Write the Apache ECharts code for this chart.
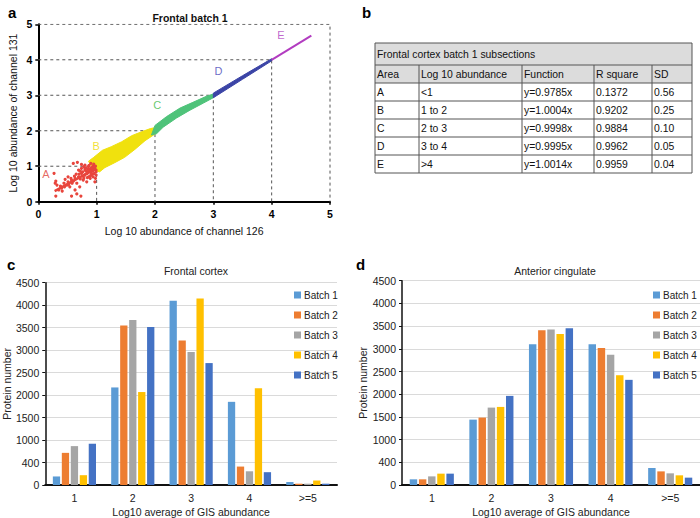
<!DOCTYPE html>
<html lang="en">
<head>
<meta charset="UTF-8">
<title>Frontal batch 1</title>
<script src="https://cdn.jsdelivr.net/npm/echarts@6/dist/echarts.min.js"></script>
<style>html,body{margin:0;padding:0;background:#fff}</style>
</head>
<body>
<div id="main" style="width:700px;height:518px"></div>
<script>
var font = 'Liberation Sans, Arial, sans-serif';

// ---- panel a: channel 131 vs channel 126 ----
var guideLevels = [1, 2, 3, 4, 5];
var redPoints = [
    [0.27, 0.80], [0.30, 0.58], [0.29, 0.52], [0.32, 0.47], [0.30, 0.16], [0.57, 0.16],
    [0.66, 0.22], [0.73, 0.16], [0.60, 1.08], [0.67, 1.11], [0.74, 1.05], [0.80, 1.03],
    [0.86, 0.99], [0.90, 1.08], [0.94, 1.01], [0.97, 0.94], [0.99, 0.89], [0.99, 0.84],
    [0.96, 0.80], [0.91, 0.75], [0.86, 0.70], [0.80, 0.75], [0.74, 0.80], [0.69, 0.70],
    [0.63, 0.66], [0.57, 0.61], [0.51, 0.56], [0.49, 0.47], [0.45, 0.42], [0.40, 0.38],
    [0.54, 0.42], [0.66, 0.52], [0.77, 0.61], [0.83, 0.56], [0.89, 0.66], [0.94, 0.70],
    [0.99, 0.75], [0.98, 0.66], [0.97, 0.56], [0.63, 0.33], [0.71, 0.42], [0.51, 0.70],
    [0.46, 0.63], [0.80, 0.89], [0.86, 0.84], [0.91, 0.89], [0.69, 0.89], [0.74, 0.94],
    [0.80, 0.94], [0.88, 0.92], [0.93, 0.86], [0.84, 0.80], [0.77, 0.72], [0.60, 0.58],
    [0.82, 0.86], [0.85, 0.91], [0.88, 0.87], [0.90, 0.82], [0.92, 0.95], [0.95, 0.90],
    [0.96, 0.97], [0.93, 0.78], [0.89, 0.73], [0.84, 0.68], [0.78, 0.66], [0.72, 0.64],
    [0.70, 0.78], [0.76, 0.84], [0.82, 0.95], [0.78, 0.99], [0.72, 0.86], [0.65, 0.78],
    [0.62, 0.72], [0.56, 0.66], [0.58, 0.52], [0.52, 0.48], [0.44, 0.52], [0.38, 0.44],
    [0.35, 0.33], [0.41, 0.30], [0.87, 1.02], [0.95, 1.06], [0.98, 1.00], [0.91, 0.96]
];
var fitA = [[0.28, 0.30], [0.98, 0.93]];
var fitE = [[4.00, 4.00], [4.68, 4.68]];
var bandB = [
    [0.86, 1.14], [0.95, 1.25], [1.10, 1.45], [1.25, 1.55], [1.43, 1.69], [1.60, 1.86],
    [1.77, 1.97], [1.92, 2.06], [2.01, 2.09], [2.02, 1.93], [1.83, 1.72], [1.66, 1.48],
    [1.48, 1.25], [1.31, 1.10], [1.14, 0.96], [1.05, 0.84], [0.95, 0.90]
];
var bandC = [
    [1.94, 1.88], [2.00, 2.15], [2.20, 2.40], [2.43, 2.64], [2.65, 2.80], [2.88, 2.97],
    [3.01, 3.04], [3.01, 2.94], [2.83, 2.78], [2.60, 2.58], [2.37, 2.36], [2.14, 2.10], [2.03, 1.92]
];
var bandD = [[3.00, 3.06], [3.50, 3.55], [4.00, 4.03], [4.00, 3.97], [3.50, 3.45], [3.00, 2.93]];
var areaLabels = [[0.13, 0.77, 'A'], [0.99, 1.58, 'B'], [2.04, 2.72, 'C'], [3.09, 3.68, 'D'], [4.16, 4.69, 'E']];

// ---- panel b: table ----
var tableTitle = 'Frontal cortex batch 1 subsections';
var tableHead = ['Area', 'Log 10 abundance', 'Function', 'R square', 'SD'];
var tableRows = [
    ['A', '<1', 'y=0.9785x', '0.1372', '0.56'],
    ['B', '1 to 2', 'y=1.0004x', '0.9202', '0.25'],
    ['C', '2 to 3', 'y=0.9998x', '0.9884', '0.10'],
    ['D', '3 to 4', 'y=0.9995x', '0.9962', '0.05'],
    ['E', '>4', 'y=1.0014x', '0.9959', '0.04']
];

// ---- panels c, d: protein number per abundance bin ----
var categories = ['1', '2', '3', '4', '>=5'];
var yTickLabels = ['0', '400', '1000', '1500', '2000', '2500', '3000', '3500', '4000', '4500'];
var batchNames = ['Batch 1', 'Batch 2', 'Batch 3', 'Batch 4', 'Batch 5'];
var frontalBatch1 = [190, 2170, 4100, 1850, 66];
var frontalBatch2 = [715, 3550, 3215, 410, 29];
var frontalBatch3 = [865, 3670, 2960, 305, 29];
var frontalBatch4 = [218, 2068, 4150, 2150, 100];
var frontalBatch5 = [918, 3515, 2712, 285, 29];
var anteriorBatch1 = [125, 1440, 3100, 3100, 375];
var anteriorBatch2 = [125, 1485, 3410, 3015, 300];
var anteriorBatch3 = [190, 1705, 3425, 2870, 257];
var anteriorBatch4 = [250, 1720, 3325, 2418, 213];
var anteriorBatch5 = [250, 1963, 3455, 2316, 162];

var batchColors = ['#5B9BD5', '#ED7D31', '#A5A5A5', '#FFC000', '#4472C4'];
var labelColors = ['#e0443a', '#eed800', '#3fba4a', '#4646b8', '#b040c0'];
var bands = [
    { pts: bandB, color: '#f0e10e' },
    { pts: bandC, color: '#4fc37a' },
    { pts: bandD, color: '#3b44a6' }
];

var myChart = echarts.init(document.getElementById('main'), null, { renderer: 'svg' });

// table drawn as graphic elements
var colX = [375, 419, 522, 594, 652, 692];
var rowY = [43, 65, 83, 101, 119, 137, 155, 173];
var tableGraphic = [];
tableGraphic.push({ type: 'rect', shape: { x: colX[0], y: rowY[0], width: colX[5] - colX[0], height: rowY[2] - rowY[0] }, style: { fill: '#dcdcdc' } });
for (var r = 0; r < rowY.length; r++) {
    tableGraphic.push({ type: 'line', shape: { x1: colX[0], y1: rowY[r], x2: colX[5], y2: rowY[r] }, style: { stroke: '#555', lineWidth: 1 } });
}
for (var c = 0; c < colX.length; c++) {
    var y1 = (c === 0 || c === colX.length - 1) ? rowY[0] : rowY[1];
    tableGraphic.push({ type: 'line', shape: { x1: colX[c], y1: y1, x2: colX[c], y2: rowY[7] }, style: { stroke: '#555', lineWidth: 1 } });
}
function cellText(txt, c, r) {
    return {
        type: 'text', x: colX[c] + 2, y: (rowY[r] + rowY[r + 1]) / 2,
        style: { text: txt, fill: '#111', font: '10.4px ' + font, textVerticalAlign: 'middle' }
    };
}
tableGraphic.push(cellText(tableTitle, 0, 0));
tableHead.forEach(function (h, i) { tableGraphic.push(cellText(h, i, 1)); });
tableRows.forEach(function (row, j) {
    row.forEach(function (v, i) { tableGraphic.push(cellText(v, i, j + 2)); });
});

var dashStyle = { color: '#555', width: 1, type: [3, 3] };
var series = [];

guideLevels.forEach(function (k) {
    series.push({
        type: 'line', xAxisIndex: 0, yAxisIndex: 0, symbol: 'none', silent: true,
        data: [[0, k], [k, k], [k, 0]], lineStyle: dashStyle, z: 1
    });
});
series.push({
    type: 'custom', xAxisIndex: 0, yAxisIndex: 0, z: 2,
    data: [[1, 1], [2, 2], [3, 3]],
    renderItem: function (params, api) {
        var b = bands[params.dataIndex];
        return {
            type: 'polygon',
            shape: { points: b.pts.map(function (p) { return api.coord(p); }) },
            style: { fill: b.color, stroke: b.color, lineWidth: 1 }
        };
    }
});
series.push({
    type: 'line', xAxisIndex: 0, yAxisIndex: 0, symbol: 'none', data: fitA,
    lineStyle: { color: '#e8453c', width: 2.5 }, z: 3
});
series.push({
    type: 'line', xAxisIndex: 0, yAxisIndex: 0, symbol: 'none', data: fitE,
    lineStyle: { color: '#b23cc0', width: 2 }, z: 3
});
series.push({
    type: 'scatter', xAxisIndex: 0, yAxisIndex: 0, data: redPoints,
    symbolSize: 3.2, itemStyle: { color: '#e8453c', opacity: 1 }, z: 4
});
series.push({
    type: 'scatter', xAxisIndex: 0, yAxisIndex: 0, symbolSize: 1, z: 5,
    itemStyle: { color: 'rgba(0,0,0,0)' },
    data: areaLabels.map(function (d, i) {
        return { value: [d[0], d[1]], name: d[2], label: { color: labelColors[i] } };
    }),
    label: { show: true, position: 'inside', formatter: '{b}', fontSize: 11, fontFamily: font }
});

var frontal = [frontalBatch1, frontalBatch2, frontalBatch3, frontalBatch4, frontalBatch5];
var anterior = [anteriorBatch1, anteriorBatch2, anteriorBatch3, anteriorBatch4, anteriorBatch5];
[frontal, anterior].forEach(function (panel, p) {
    panel.forEach(function (vals, i) {
        series.push({
            name: batchNames[i], type: 'bar', xAxisIndex: p + 1, yAxisIndex: p + 1,
            data: vals, itemStyle: { color: batchColors[i] },
            barCategoryGap: '26%', barGap: '23%'
        });
    });
});

function barY(idx) {
    return {
        type: 'value', gridIndex: idx, min: 0, max: 4500, interval: 500,
        name: 'Protein number', nameLocation: 'middle', nameGap: 31, nameRotate: 90,
        nameTextStyle: { fontSize: 10.5, color: '#222', fontFamily: font },
        axisLine: { show: true, lineStyle: { color: '#111', width: 1.5 } },
        axisTick: { show: true, length: 3, lineStyle: { color: '#111' } },
        splitLine: { lineStyle: { color: '#dadada' } },
        axisLabel: {
            fontSize: 10.5, color: '#222', fontFamily: font, margin: 6,
            formatter: function (v) { return yTickLabels[Math.round(v / 500)]; }
        }
    };
}
function barX(idx) {
    return {
        type: 'category', gridIndex: idx, data: categories,
        name: 'Log10 average of GIS abundance', nameLocation: 'middle', nameGap: 21,
        nameTextStyle: { fontSize: 10.5, color: '#222', fontFamily: font },
        axisLine: { lineStyle: { color: '#111', width: 2 } },
        axisTick: { show: false },
        axisLabel: { fontSize: 10.5, color: '#222', fontFamily: font, margin: 7 }
    };
}
function legendAt(left) {
    return {
        data: batchNames, left: left, top: 289, orient: 'vertical', icon: 'rect',
        padding: 0, itemWidth: 7, itemHeight: 7, itemGap: 8, selectedMode: false,
        textStyle: { fontSize: 10, color: '#222', fontFamily: font, lineHeight: 12, padding: [0, 0, 0, -2] }
    };
}

var option = {
    animation: false,
    backgroundColor: '#fff',
    textStyle: { fontFamily: font },
    title: [
        { text: 'a', left: 3, top: 0, textStyle: { fontSize: 15, fontWeight: 'bold', color: '#000' } },
        { text: 'b', left: 357, top: 0, textStyle: { fontSize: 15, fontWeight: 'bold', color: '#000' } },
        { text: 'c', left: 2, top: 252, textStyle: { fontSize: 15, fontWeight: 'bold', color: '#000' } },
        { text: 'd', left: 351, top: 252, textStyle: { fontSize: 15, fontWeight: 'bold', color: '#000' } },
        { text: 'Frontal batch 1', left: 185, top: 7, textAlign: 'center', textStyle: { fontSize: 10.5, fontWeight: 'bold', color: '#111' } },
        { text: 'Frontal cortex', left: 191, top: 260, textAlign: 'center', textStyle: { fontSize: 10.5, fontWeight: 'normal', color: '#222' } },
        { text: 'Anterior cingulate', left: 550, top: 260, textAlign: 'center', textStyle: { fontSize: 10.5, fontWeight: 'normal', color: '#222' } }
    ],
    legend: [legendAt(294), legendAt(653)],
    grid: [
        { left: 38.3, top: 24.3, width: 291.7, height: 177.4 },
        { left: 44, top: 282.7, width: 293, height: 203.3 },
        { left: 402, top: 280.7, width: 298, height: 205.3 }
    ],
    xAxis: [
        {
            type: 'value', gridIndex: 0, min: 0, max: 5, interval: 1,
            name: 'Log 10 abundance of channel 126', nameLocation: 'middle', nameGap: 24,
            nameTextStyle: { fontSize: 10.5, color: '#111', fontFamily: font },
            axisLine: { lineStyle: { color: '#000', width: 2 } },
            axisTick: { show: true, length: 3, lineStyle: { color: '#000', width: 1.5 } },
            splitLine: { show: false },
            axisLabel: { fontSize: 10.5, fontWeight: 'bold', color: '#000', margin: 7 }
        },
        barX(1), barX(2)
    ],
    yAxis: [
        {
            type: 'value', gridIndex: 0, min: 0, max: 5, interval: 1,
            name: 'Log 10 abundance of channel 131', nameLocation: 'middle', nameGap: 20, nameRotate: 90,
            nameTextStyle: { fontSize: 10.5, color: '#111', fontFamily: font },
            axisLine: { show: true, lineStyle: { color: '#000', width: 2 } },
            axisTick: { show: true, length: 3, lineStyle: { color: '#000', width: 1.5 } },
            splitLine: { show: false },
            axisLabel: { fontSize: 10.5, fontWeight: 'bold', color: '#000', margin: 6 }
        },
        barY(1), barY(2)
    ],
    graphic: tableGraphic,
    series: series
};

myChart.setOption(option);
</script>
</body>
</html>
